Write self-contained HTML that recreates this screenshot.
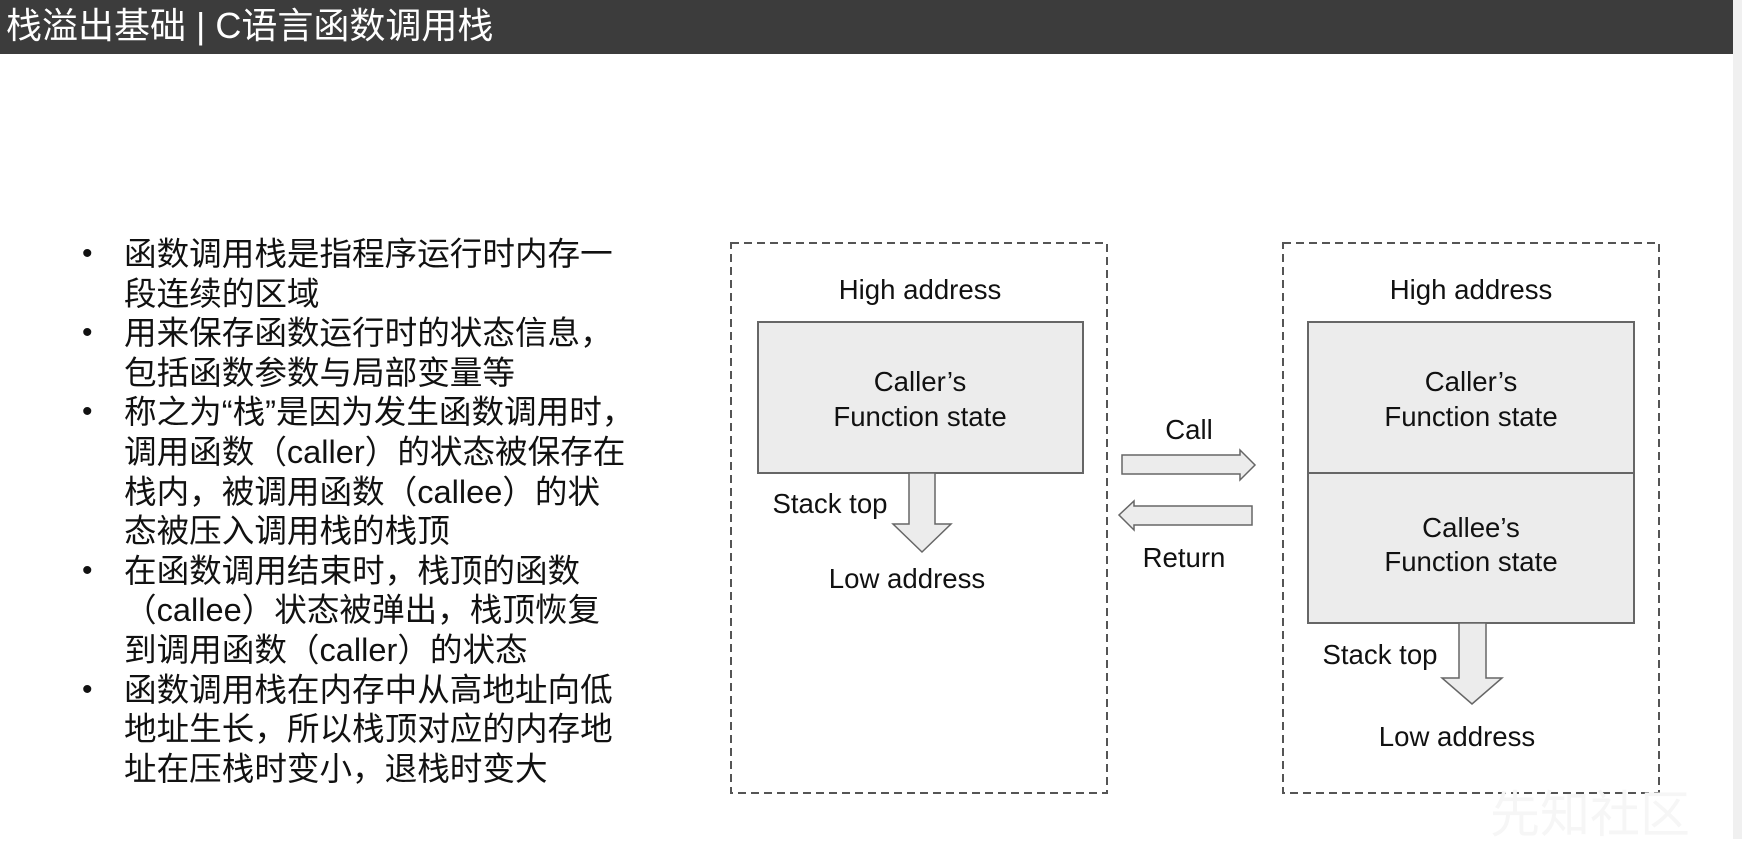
<!DOCTYPE html>
<html><head><meta charset="utf-8"><style>
body{margin:0;width:1742px;height:839px;background:#fff;position:relative;overflow:hidden;font-family:"Liberation Sans","Noto Sans CJK SC",sans-serif}
.hdr{position:absolute;left:0;top:0;width:1733px;height:54px;background:#3c3c3c;color:#fff;font-size:36px;line-height:52px;padding-left:6px;box-sizing:border-box;white-space:nowrap}
.edge{position:absolute;left:1733px;top:0;width:9px;height:839px;background:#f0f0f0}
.bl{position:absolute;left:124px;top:234px;font-size:32.6px;line-height:39.6px;color:#111;margin:0;padding:0;list-style:none;width:700px;white-space:nowrap}
.bl li{position:relative}
.bl li:before{content:"•";position:absolute;left:-42px;font-size:30px}
.t{position:absolute;font-size:27.6px;color:#111;white-space:nowrap;transform:translateX(-50%)}
</style></head><body>
<div class="hdr">栈溢出基础 | C语言函数调用栈</div>
<div class="edge"></div>
<ul class="bl">
<li>函数调用栈是指程序运行时内存一<br>段连续的区域</li>
<li>用来保存函数运行时的状态信息，<br>包括函数参数与局部变量等</li>
<li>称之为“栈”是因为发生函数调用时，<br>调用函数（caller）的状态被保存在<br>栈内，被调用函数（callee）的状<br>态被压入调用栈的栈顶</li>
<li>在函数调用结束时，栈顶的函数<br>（callee）状态被弹出，栈顶恢复<br>到调用函数（caller）的状态</li>
<li>函数调用栈在内存中从高地址向低<br>地址生长，所以栈顶对应的内存地<br>址在压栈时变小，退栈时变大</li>
</ul>
<svg width="1742" height="839" style="position:absolute;left:0;top:0">
<g fill="none" stroke="#555" stroke-width="2" stroke-dasharray="8,5">
<rect x="731" y="243" width="376" height="550"/>
<rect x="1283" y="243" width="376" height="550"/>
</g>
<g fill="#ececec" stroke="#666" stroke-width="2">
<rect x="758" y="322" width="325" height="151"/>
<rect x="1308" y="322" width="326" height="151"/>
<rect x="1308" y="473" width="326" height="150"/>
<polygon points="909,473 935,473 935,524 951,524 922,552 893,524 909,524" stroke-width="1.5"/>
<polygon points="1459,623 1486,623 1486,678 1502,678 1472,704 1442,678 1459,678" stroke-width="1.5"/>
<polygon points="1122,455 1240,455 1240,450 1255,465 1240,480 1240,474 1122,474" stroke-width="1.5"/>
<polygon points="1252,506 1134,506 1134,501 1119,515 1134,530 1134,525 1252,525" stroke-width="1.5"/>
</g>
</svg>
<div class="t" style="left:920px;top:274px">High address</div>
<div class="t" style="left:1471px;top:274px">High address</div>
<div class="t" style="left:920px;top:366px">Caller’s</div>
<div class="t" style="left:920px;top:401px">Function state</div>
<div class="t" style="left:1471px;top:366px">Caller’s</div>
<div class="t" style="left:1471px;top:401px">Function state</div>
<div class="t" style="left:1471px;top:512px">Callee’s</div>
<div class="t" style="left:1471px;top:546px">Function state</div>
<div class="t" style="left:830px;top:488px">Stack top</div>
<div class="t" style="left:1380px;top:639px">Stack top</div>
<div class="t" style="left:907px;top:563px">Low address</div>
<div class="t" style="left:1457px;top:721px">Low address</div>
<div class="t" style="left:1189px;top:414px">Call</div>
<div class="t" style="left:1184px;top:542px">Return</div>
<div style="position:absolute;left:1490px;top:775px;font-size:50px;color:#f6f6f6">先知社区</div>
</body></html>
